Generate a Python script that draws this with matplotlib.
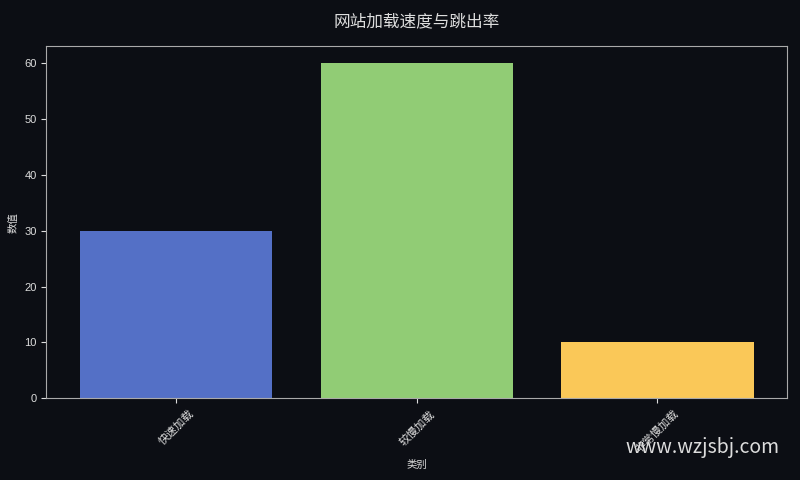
import matplotlib
matplotlib.use("Agg")
import matplotlib.pyplot as plt

plt.rcParams['font.family'] = ['Liberation Sans', 'Noto Sans CJK SC', 'DejaVu Sans']

categories = ['快速加载', '较慢加载', '非常慢加载']
values = [30, 60, 10]
colors = ['#5470c6', '#91cc75', '#fac858']

bg = '#0c0e14'
fg = '#dddddd'

fig, ax = plt.subplots(figsize=(8, 4.8), dpi=100)
fig.patch.set_facecolor(bg)
ax.set_facecolor(bg)

ax.bar(categories, values, color=colors, width=0.8)

ax.set_title('网站加载速度与跳出率', color=fg, fontsize=12, pad=14)
ax.set_xlabel('类别', color=fg, fontsize=7.5)
ax.set_ylabel('数值', color=fg, fontsize=7.5)
ax.tick_params(colors=fg, labelsize=8)
ax.tick_params(axis='x', rotation=45)
for s in ax.spines.values():
    s.set_color('#aaaaaa')

fig.text(0.975, 0.045, 'www.wzjsbj.com', color='#dddddd', fontsize=14,
         ha='right', va='bottom', family=['Noto Sans CJK SC', 'DejaVu Sans'])

plt.subplots_adjust(left=0.058, right=0.984, top=0.904, bottom=0.17)
plt.savefig('out.png', facecolor=bg)
